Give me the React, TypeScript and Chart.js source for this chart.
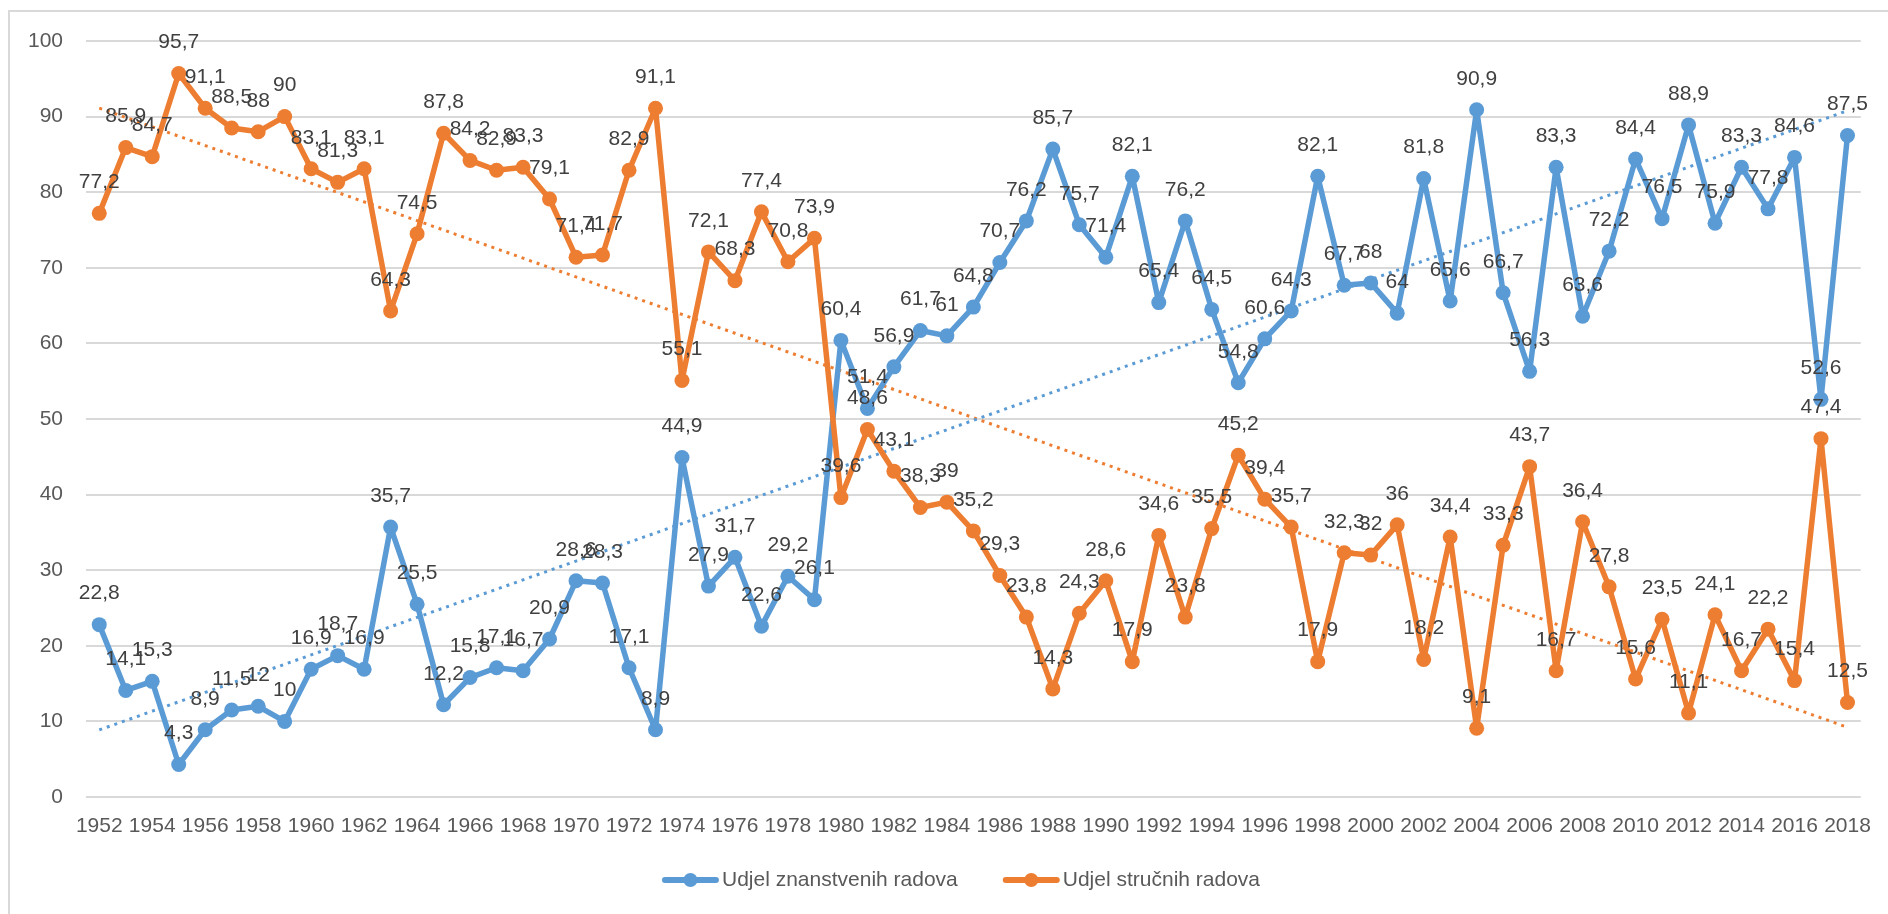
import React, { useEffect, useRef } from "react";
import { Chart, registerables } from "chart.js";

Chart.register(...registerables);

const years = [
  "1952", "1953", "1954", "1955", "1956", "1957", "1958", "1959", "1960", "1961",
  "1962", "1963", "1964", "1965", "1966", "1967", "1968", "1969", "1970", "1971",
  "1972", "1973", "1974", "1975", "1976", "1977", "1978", "1979", "1980", "1981",
  "1982", "1983", "1984", "1985", "1986", "1987", "1988", "1989", "1990", "1991",
  "1992", "1993", "1994", "1995", "1996", "1997", "1998", "1999", "2000", "2001",
  "2002", "2003", "2004", "2005", "2006", "2007", "2008", "2009", "2010", "2011",
  "2012", "2013", "2014", "2015", "2016", "2017", "2018",
];

const scientificShare = [
  22.8, 14.1, 15.3, 4.3, 8.9, 11.5, 12, 10, 16.9, 18.7,
  16.9, 35.7, 25.5, 12.2, 15.8, 17.1, 16.7, 20.9, 28.6, 28.3,
  17.1, 8.9, 44.9, 27.9, 31.7, 22.6, 29.2, 26.1, 60.4, 51.4,
  56.9, 61.7, 61, 64.8, 70.7, 76.2, 85.7, 75.7, 71.4, 82.1,
  65.4, 76.2, 64.5, 54.8, 60.6, 64.3, 82.1, 67.7, 68, 64,
  81.8, 65.6, 90.9, 66.7, 56.3, 83.3, 63.6, 72.2, 84.4, 76.5,
  88.9, 75.9, 83.3, 77.8, 84.6, 52.6, 87.5,
];

const professionalShare = [
  77.2, 85.9, 84.7, 95.7, 91.1, 88.5, 88, 90, 83.1, 81.3,
  83.1, 64.3, 74.5, 87.8, 84.2, 82.9, 83.3, 79.1, 71.4, 71.7,
  82.9, 91.1, 55.1, 72.1, 68.3, 77.4, 70.8, 73.9, 39.6, 48.6,
  43.1, 38.3, 39, 35.2, 29.3, 23.8, 14.3, 24.3, 28.6, 17.9,
  34.6, 23.8, 35.5, 45.2, 39.4, 35.7, 17.9, 32.3, 32, 36,
  18.2, 34.4, 9.1, 33.3, 43.7, 16.7, 36.4, 27.8, 15.6, 23.5,
  11.1, 24.1, 16.7, 22.2, 15.4, 47.4, 12.5,
];

const seriesNames = ["Udjel znanstvenih radova", "Udjel stručnih radova"];
const seriesColors = ["#5B9BD5", "#ED7D31"];

const FONT = "'Liberation Sans', Arial, sans-serif";
const FONT_SIZE = 21;
const TICK_COLOR = "#595959";
const LABEL_COLOR = "#404040";
const LEGEND_CENTER_X = 961;
const LEGEND_Y = 880;

// Least-squares linear trend (like Excel's linear trendline), x = 1..n
function linearTrend(values: number[]): number[] {
  const n = values.length;
  let sx = 0, sy = 0, sxy = 0, sxx = 0;
  values.forEach((v, i) => {
    const x = i + 1;
    sx += x; sy += v; sxy += x * v; sxx += x * x;
  });
  const slope = (n * sxy - sx * sy) / (n * sxx - sx * sx);
  const intercept = (sy - slope * sx) / n;
  return values.map((_, i) => intercept + slope * (i + 1));
}

const backgroundPlugin = {
  id: "bgBorder",
  beforeDraw(chart: any) {
    const ctx = chart.ctx;
    ctx.save();
    ctx.fillStyle = "#ffffff";
    ctx.fillRect(0, 0, chart.width, chart.height);
    ctx.strokeStyle = "#d9d9d9";
    ctx.lineWidth = 2;
    ctx.strokeRect(9, 11, chart.width + 50, chart.height + 50);
    ctx.restore();
  },
};

const valueLabelPlugin = {
  id: "valueLabels",
  afterDatasetsDraw(chart: any) {
    const ctx = chart.ctx;
    ctx.save();
    ctx.font = `${FONT_SIZE}px ${FONT}`;
    ctx.fillStyle = LABEL_COLOR;
    ctx.textAlign = "center";
    ctx.textBaseline = "middle";
    chart.data.datasets.forEach((ds: any, di: number) => {
      if (!ds.showValues) return;
      const meta = chart.getDatasetMeta(di);
      meta.data.forEach((pt: any, i: number) => {
        const v = ds.data[i];
        if (v == null) return;
        const txt = String(v).replace(".", ",");
        ctx.fillText(txt, pt.x, pt.y - 31);
      });
    });
    ctx.restore();
  },
};

const legendPlugin = {
  id: "customLegend",
  afterDraw(chart: any) {
    const ctx = chart.ctx;
    ctx.save();
    ctx.font = `${FONT_SIZE}px ${FONT}`;
    const items = chart.data.datasets.filter((d: any) => d.showValues);
    const symW = 57, symGap = 3, itemGap = 45;
    const widths = items.map((d: any) => ctx.measureText(d.label).width);
    const total =
      widths.reduce((a: number, w: number) => a + symW + symGap + w, 0) +
      itemGap * (items.length - 1);
    let x = LEGEND_CENTER_X - total / 2;
    const y = LEGEND_Y;
    items.forEach((d: any, i: number) => {
      ctx.strokeStyle = d.borderColor;
      ctx.lineWidth = 6;
      ctx.lineCap = "round";
      ctx.beginPath();
      ctx.moveTo(x + 3, y);
      ctx.lineTo(x + symW - 3, y);
      ctx.stroke();
      ctx.fillStyle = d.borderColor;
      ctx.beginPath();
      ctx.arc(x + symW / 2, y, 7, 0, Math.PI * 2);
      ctx.fill();
      ctx.fillStyle = TICK_COLOR;
      ctx.textAlign = "left";
      ctx.textBaseline = "middle";
      ctx.fillText(d.label, x + symW + symGap, y);
      x += symW + symGap + widths[i] + itemGap;
    });
    ctx.restore();
  },
};

export default function App() {
  const canvasRef = useRef<HTMLCanvasElement | null>(null);

  useEffect(() => {
    if (!canvasRef.current) return;
    const series = [scientificShare, professionalShare];
    const mainSets = series.map((data, i) => ({
      label: seriesNames[i],
      data,
      showValues: true,
      borderColor: seriesColors[i],
      backgroundColor: seriesColors[i],
      borderWidth: 5.5,
      borderJoinStyle: "round",
      borderCapStyle: "round",
      pointRadius: 7.5,
      pointBorderWidth: 0,
      pointBackgroundColor: seriesColors[i],
      tension: 0,
      order: 2 - i,
    }));
    const trendSets = series.map((data, i) => ({
      label: seriesNames[i] + " (trend)",
      data: linearTrend(data),
      showValues: false,
      borderColor: seriesColors[i],
      borderWidth: 3,
      borderDash: [3, 5],
      borderCapStyle: "butt",
      pointRadius: 0,
      tension: 0,
      order: 5 + i,
    }));

    const chart = new Chart(canvasRef.current, {
      type: "line",
      data: { labels: years, datasets: [...mainSets, ...trendSets] as any },
      options: {
        animation: false,
        responsive: false,
        devicePixelRatio: 1,
        layout: { padding: { top: 41, right: 21, left: 0, bottom: 0 } },
        plugins: {
          legend: { display: false },
          tooltip: { enabled: false },
        },
        scales: {
          x: {
            type: "category",
            offset: true,
            grid: { display: false, drawTicks: false },
            border: { display: false },
            ticks: {
              autoSkip: false,
              maxRotation: 0,
              minRotation: 0,
              padding: 17,
              color: TICK_COLOR,
              font: { family: FONT, size: FONT_SIZE },
              callback: function (this: any, val: any, idx: number) {
                return idx % 2 === 0 ? this.getLabelForValue(val) : "";
              },
            },
            afterFit: (s: any) => {
              s.height = 117;
            },
          },
          y: {
            min: 0,
            max: 100,
            ticks: {
              stepSize: 10,
              padding: 23,
              color: TICK_COLOR,
              font: { family: FONT, size: FONT_SIZE },
            },
            grid: { color: "#d9d9d9", lineWidth: 2, drawTicks: false },
            border: { display: false },
            afterFit: (s: any) => {
              s.width = 86;
            },
          },
        },
      } as any,
      plugins: [backgroundPlugin, valueLabelPlugin, legendPlugin],
    });
    return () => chart.destroy();
  }, []);

  return (
    <div style={{ position: "absolute", left: 0, top: 0, width: 1888, height: 914 }}>
      <canvas ref={canvasRef} width={1888} height={914} style={{ display: "block" }} />
    </div>
  );
}
